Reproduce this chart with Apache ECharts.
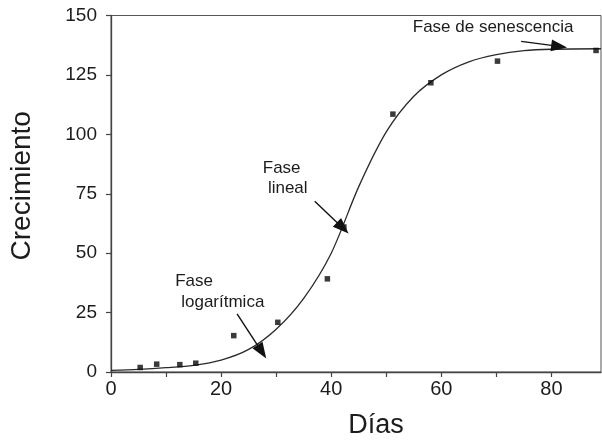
<!DOCTYPE html>
<html>
<head>
<meta charset="utf-8">
<script src="https://cdn.jsdelivr.net/npm/echarts@6/dist/echarts.min.js"></script>
<style>
  html, body { margin: 0; padding: 0; background: #fff; }
  #chart { width: 602px; height: 444px; }
</style>
</head>
<body>
<div id="chart"></div>
<script>
// Measured growth (días, crecimiento)
const obsDays   = [5.3, 8.3, 12.5, 15.4, 22.3, 30.3, 39.3, 42.3, 51.2, 58.1, 70.2, 88.1];
const obsGrowth = [1.9, 3.3, 3.1, 3.7, 15.3, 20.9, 39.2, 61.0, 108.5, 121.7, 130.8, 135.3];

// Fitted sigmoid curve, sampled every 5 days
const fitDays   = [0, 5, 10, 15, 20, 25, 30, 35, 40, 45, 50, 55, 60, 65, 70, 75, 80, 89];
const fitGrowth = [0.7, 1.1, 1.8, 2.8, 5.0, 9.5, 18.0, 31.0, 50.0, 78.0, 101.0, 116.0, 125.0, 130.5, 133.5, 135.2, 135.8, 136.0];

// Axis ticks
const xTicks  = [0, 10, 20, 30, 40, 50, 60, 70, 80];
const xLabels = [0, 20, 40, 60, 80];

// Phase annotations: text lines and arrows [from, to]
const phaseTexts = [
  { text: 'Fase',                 at: [15.1, 38.1] },
  { text: 'logarítmica',          at: [20.3, 29.4] },
  { text: 'Fase',                 at: [31.0, 85.6] },
  { text: 'lineal',               at: [32.1, 77.3] },
  { text: 'Fase de senescencia',  at: [69.4, 145.0] }
];
const phaseArrows = [
  [[22.9, 24.5], [27.4, 8.5]],
  [[37.0, 71.8], [42.1, 60.6]],
  [[74.5, 139.1], [81.4, 137.0]]
];

const textColor = '#1c1c1c';
const ink = '#2a2a2a';
const font = 'Liberation Sans, Arial, sans-serif';

const chart = echarts.init(document.getElementById('chart'), null, { renderer: 'canvas' });

chart.setOption({
  backgroundColor: '#ffffff',
  animation: false,
  grid: {
    left: 108, right: 1, top: 15.5, bottom: 68.5,
    show: true, borderColor: '#555', borderWidth: 1, backgroundColor: 'transparent'
  },
  xAxis: {
    type: 'value', min: 0, max: 89,
    name: 'Días', nameLocation: 'middle', nameGap: 40,
    nameTextStyle: { fontFamily: font, fontSize: 27, color: textColor, padding: [0, 0, 0, 40] },
    axisLine: { show: true, lineStyle: { color: '#444', width: 1.3 } },
    axisTick: { show: true, length: 5, customValues: xTicks, lineStyle: { color: '#444', width: 1.2 } },
    axisLabel: { customValues: xLabels, fontFamily: font, fontSize: 20, color: textColor, margin: 7 },
    splitLine: { show: false }
  },
  yAxis: {
    type: 'value', min: 0, max: 150, interval: 25,
    name: 'Crecimiento', nameLocation: 'middle', nameGap: 75, nameRotate: 90,
    nameTextStyle: { fontFamily: font, fontSize: 28, color: textColor, padding: [0, 0, 0, 16] },
    axisLine: { show: true, lineStyle: { color: '#444', width: 1.3 } },
    axisTick: { show: true, length: 5, lineStyle: { color: '#444', width: 1.2 } },
    axisLabel: { fontFamily: font, fontSize: 19, color: textColor, margin: 14 },
    splitLine: { show: false }
  },
  series: [
    {
      name: 'Ajuste',
      type: 'line',
      data: fitDays.map((d, i) => [d, fitGrowth[i]]),
      smooth: 0.3,
      showSymbol: false,
      lineStyle: { color: ink, width: 1.3 },
      z: 2,
      markLine: {
        silent: true,
        symbol: ['none', 'triangle'],
        symbolSize: [12, 16],
        lineStyle: { color: '#111', width: 1.4, type: 'solid' },
        itemStyle: { color: '#111' },
        label: { show: false },
        emphasis: { disabled: true },
        data: phaseArrows.map(a => [{ coord: a[0] }, { coord: a[1] }])
      },
      markPoint: {
        silent: true,
        symbol: 'rect',
        symbolSize: 0,
        label: {
          show: true, position: 'inside',
          fontFamily: font, fontSize: 17, color: textColor,
          formatter: p => p.name
        },
        data: phaseTexts.map(t => ({ name: t.text, coord: t.at }))
      }
    },
    {
      name: 'Observado',
      type: 'scatter',
      data: obsDays.map((d, i) => [d, obsGrowth[i]]),
      symbol: 'rect',
      symbolSize: 5.5,
      itemStyle: { color: '#0a0a0a' },
      z: 3
    }
  ]
});
</script>
</body>
</html>
